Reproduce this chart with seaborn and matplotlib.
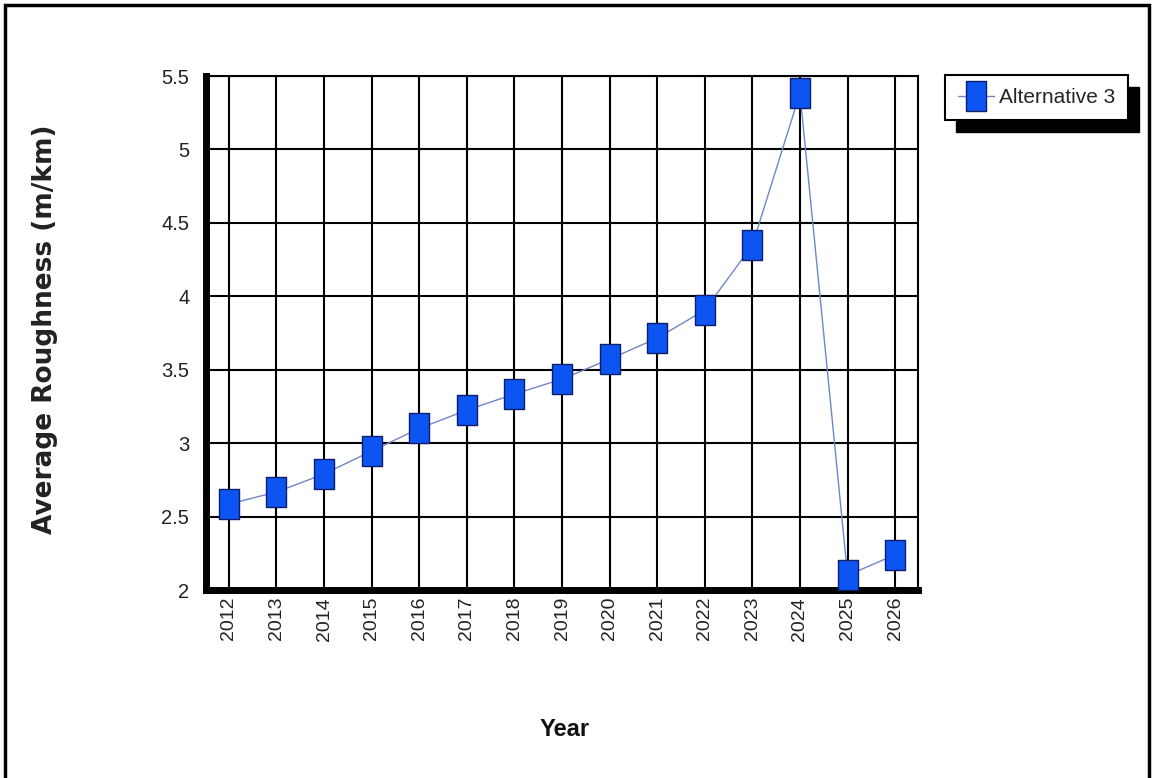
import matplotlib
matplotlib.use("Agg")
import matplotlib.pyplot as plt
from matplotlib.patches import Rectangle
from matplotlib.font_manager import FontProperties
import pandas as pd
import seaborn as sns

# data
years = [2012, 2013, 2014, 2015, 2016, 2017, 2018, 2019,
         2020, 2021, 2022, 2023, 2024, 2025, 2026]
roughness = [2.585, 2.667, 2.79, 2.946, 3.10, 3.225, 3.334, 3.436,
             3.572, 3.715, 3.906, 4.348, 5.383, 2.10, 2.24]
series_name = "Alternative 3"
yticks = [2, 2.5, 3, 3.5, 4, 4.5, 5, 5.5]
ytick_labels = ["2", "2.5", "3", "3.5", "4", "4.5", "5", "5.5"]

df = pd.DataFrame({"year": years, "roughness": roughness})

sns.set_style("white")
plt.rcParams["font.family"] = ["Liberation Sans", "DejaVu Sans"]
fam = ["Liberation Sans", "DejaVu Sans"]

fig = plt.figure(figsize=(11.52, 7.78), dpi=100)
ax = fig.add_axes([206 / 1152, 1 - 590 / 778, 712 / 1152, 514 / 778])

# tall rectangle marker, as in the original
rect_marker = [(-2, -3), (2, -3), (2, 3), (-2, 3), (-2, -3)]
sns.lineplot(data=df, x="year", y="roughness", ax=ax, legend=False,
             color="#6f86c8", lw=1.0, marker=rect_marker, markersize=21,
             markerfacecolor="#0d55f2", markeredgecolor="#0b1d6b",
             markeredgewidth=1.0, zorder=3)

ax.set_xlim(years[0] - 0.48, years[-1] + 0.48)
ax.set_ylim(yticks[0], yticks[-1])
ax.set_xticks(years)
ax.set_xticklabels([str(y) for y in years], rotation=90,
                   fontsize=14, family=fam)
ax.set_yticks(yticks)
ax.set_yticklabels(ytick_labels, fontsize=14.5, family=fam)
ax.tick_params(axis="both", length=0, colors="#222222")
ax.tick_params(axis="x", pad=5)
ax.tick_params(axis="y", pad=12)
ax.set_xlabel("")
ax.set_ylabel("")

ax.grid(True, color="black", lw=1.5)
ax.set_axisbelow(True)
for side in ["left", "bottom"]:
    ax.spines[side].set_linewidth(5)
    ax.spines[side].set_color("black")
for side in ["top", "right"]:
    ax.spines[side].set_linewidth(1.5)
    ax.spines[side].set_color("black")

fig.text(45 / 1152, 1 - 329 / 778, "Average Roughness (m/km)", rotation=90,
         ha="center", va="center", fontsize=19, fontweight="bold",
         family=["DejaVu Sans"], color="#222222")
fig.text(565 / 1152, 1 - 730 / 778, "Year", ha="center", va="center",
         fontsize=17, fontweight="bold", family=fam, color="#111111")

leg = fig.legend(handles=[ax.lines[0]], labels=[series_name],
                 loc="upper left", bbox_to_anchor=(945 / 1152, 1 - 75 / 778),
                 frameon=True, fancybox=False, edgecolor="black",
                 prop=FontProperties(family=fam, size=15),
                 handlelength=1.75, borderpad=0.62, handletextpad=0.2,
                 borderaxespad=0)
leg.get_frame().set_linewidth(1.5)
leg.get_frame().set_alpha(1)
leg.set_zorder(5)

# hard black drop shadow behind the legend box
fig.canvas.draw()
bb = leg.get_window_extent().transformed(fig.transFigure.inverted())
fig.add_artist(Rectangle((bb.x0 + 11 / 1152, bb.y0 - 12 / 778), bb.width, bb.height,
                         transform=fig.transFigure, fc="black", ec="black",
                         zorder=4))

# outer frame (open at the bottom in the reference)
fig.add_artist(Rectangle((5 / 1152, -0.1), 1144 / 1152, 1.1 - 5 / 778,
                         transform=fig.transFigure, fill=False, ec="black",
                         lw=2.5, zorder=10))

fig.savefig("out.png", dpi=100)
